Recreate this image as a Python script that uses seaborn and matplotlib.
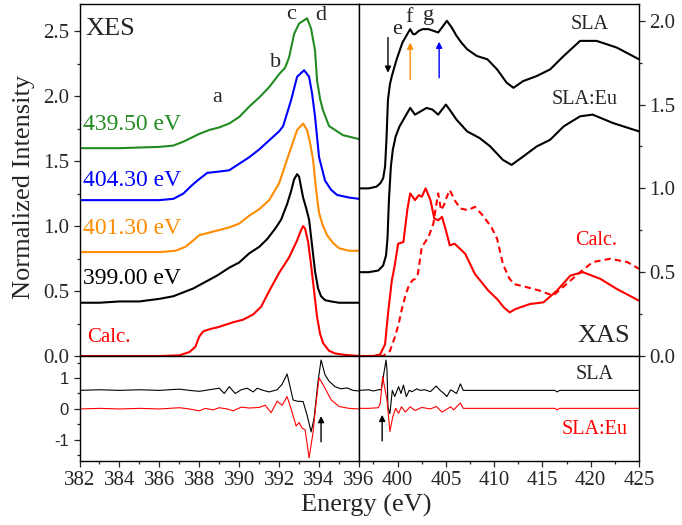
import matplotlib
matplotlib.use("Agg")
import matplotlib.pyplot as plt
import seaborn as sns
from matplotlib.ticker import MultipleLocator, FormatStrFormatter

sns.set_style("ticks")
plt.rcParams["font.family"] = ["Liberation Serif", "DejaVu Serif"]
plt.rcParams["axes.unicode_minus"] = False

# ---------------- XES (emission) spectra, offset for clarity ----------------
xes_e_399 = [382, 383, 384, 385, 385.5, 386, 386.7, 387.2, 387.7, 388.3, 388.9, 389.5,
             390.0, 390.5, 391.0, 391.4, 391.8, 392.1, 392.4, 392.6, 392.75, 392.9,
             393.0, 393.1, 393.2, 393.35, 393.5, 393.65, 393.8, 393.95, 394.1, 394.3,
             394.6, 395.0, 395.5, 396]
xes_i_399 = [0.41, 0.41, 0.42, 0.42, 0.43, 0.44, 0.46, 0.49, 0.52, 0.57, 0.62, 0.68,
             0.72, 0.79, 0.84, 0.90, 0.98, 1.05, 1.17, 1.27, 1.36, 1.40,
             1.38, 1.30, 1.22, 1.14, 1.05, 0.85, 0.65, 0.52, 0.46, 0.43,
             0.42, 0.41, 0.41, 0.41]

xes_e_401 = [382, 384, 386, 386.8, 387.3, 387.7, 388.0, 388.5, 389.0, 389.5, 390.0,
             390.5, 391.0, 391.5, 392.0, 392.5, 392.9, 393.2, 393.4, 393.55, 393.7,
             393.85, 394.0, 394.2, 394.4, 394.7, 395.0, 395.5, 396]
xes_i_401 = [0.80, 0.80, 0.80, 0.81, 0.84, 0.89, 0.93, 0.95, 0.97, 0.99, 1.02,
             1.08, 1.13, 1.20, 1.33, 1.56, 1.74, 1.79, 1.74, 1.64, 1.51,
             1.28, 1.10, 1.00, 0.93, 0.87, 0.83, 0.81, 0.81]

xes_e_404 = [382, 384, 386, 386.7, 387.2, 387.6, 387.9, 388.4, 389.0, 389.5, 390.5,
             391.0, 391.5, 392.0, 392.2, 392.4, 392.6, 392.9, 393.25, 393.5, 393.65,
             393.8, 394.0, 394.3, 394.6, 394.9, 395.5, 396]
xes_i_404 = [1.20, 1.20, 1.20, 1.21, 1.25, 1.31, 1.35, 1.41, 1.42, 1.43, 1.53,
             1.59, 1.66, 1.73, 1.77, 1.87, 1.97, 2.15, 2.20, 2.15, 2.02,
             1.84, 1.53, 1.35, 1.28, 1.24, 1.22, 1.21]

xes_e_439 = [382, 384, 386, 386.7, 387.2, 387.6, 388.0, 388.5, 389.0, 389.5, 390.0,
             390.5, 391.0, 391.5, 392.0, 392.3, 392.5, 392.75, 393.0, 393.4, 393.6,
             393.8, 393.9, 394.05, 394.2, 394.5, 395.2, 396]
xes_i_439 = [1.60, 1.60, 1.61, 1.62, 1.65, 1.68, 1.71, 1.74, 1.76, 1.79, 1.84,
             1.92, 1.99, 2.07, 2.17, 2.22, 2.30, 2.48, 2.56, 2.60, 2.52,
             2.35, 2.12, 1.98, 1.89, 1.77, 1.70, 1.67]

xes_e_calc = [382, 386, 387.0, 387.5, 387.8, 388.0, 388.2, 388.4, 388.6, 388.9, 389.3,
              389.7, 390.2, 390.7, 391.1, 391.5, 392.0, 392.5, 392.9, 393.1, 393.2,
              393.3, 393.45, 393.6, 393.75, 393.9, 394.05, 394.2, 394.5, 394.8, 395.2, 396]
xes_i_calc = [0.0, 0.0, 0.005, 0.03, 0.07, 0.15, 0.19, 0.20, 0.21, 0.22, 0.24,
              0.26, 0.28, 0.32, 0.38, 0.50, 0.64, 0.76, 0.89, 0.97, 1.00,
              0.98, 0.88, 0.70, 0.50, 0.30, 0.17, 0.10, 0.04, 0.02, 0.01, 0.0]

# ---------------- XAS (absorption) spectra ----------------
xas_e_sla = [396, 397, 397.8, 398.2, 398.5, 398.7, 398.85, 399.0, 399.2, 399.4, 399.9,
             400.5, 401.0, 401.3, 401.6, 401.8, 402.2, 402.6, 403.2, 403.7, 404.2,
             404.6, 405.1, 405.6, 406.1, 406.6, 407.2, 408.2, 409.3, 410.3, 411.3,
             412.0, 413.0, 414.4, 415.8, 417.2, 418.9, 420.6, 422.7, 425]
xas_i_sla = [1.00, 1.00, 1.01, 1.03, 1.06, 1.13, 1.30, 1.53, 1.62, 1.67, 1.77,
             1.87, 1.92, 1.95, 1.92, 1.92, 1.94, 1.95, 1.95, 1.94, 1.93,
             1.96, 2.00, 1.96, 1.91, 1.87, 1.83, 1.79, 1.77, 1.71, 1.63,
             1.60, 1.64, 1.67, 1.71, 1.79, 1.88, 1.88, 1.84, 1.77]

xas_e_eu = [396, 397, 398.0, 398.5, 398.8, 398.95, 399.1, 399.3, 399.5, 399.8, 400.2,
            400.8, 401.3, 401.8, 402.4, 403.0, 403.6, 404.2, 404.6, 405.0, 405.5,
            406.1, 407.2, 408.5, 409.6, 410.9, 411.8, 413.0, 414.4, 415.8, 417.2,
            418.9, 420.2, 422.3, 425]
xas_i_eu = [0.50, 0.50, 0.51, 0.54, 0.60, 0.70, 0.93, 1.13, 1.23, 1.31, 1.37,
            1.43, 1.48, 1.44, 1.46, 1.48, 1.47, 1.44, 1.47, 1.50, 1.46,
            1.41, 1.34, 1.30, 1.25, 1.17, 1.14, 1.19, 1.25, 1.29, 1.37,
            1.43, 1.44, 1.39, 1.34]

xas_e_calc = [396, 397.5, 398.2, 398.7, 399.0, 399.4, 399.7, 400.05, 400.6, 401.0, 401.3,
              401.8, 402.2, 402.5, 402.9, 403.4, 403.8, 404.2, 404.6, 405.0, 405.4,
              405.9, 407.0, 408.0, 409.4, 410.3, 411.0, 411.6, 412.2, 412.7, 413.7,
              415.1, 416.5, 417.9, 419.2, 421.0, 422.7, 425]
xas_i_calc = [0.0, 0.0, 0.01, 0.07, 0.25, 0.45, 0.54, 0.67, 0.68, 0.87, 0.97,
              0.93, 0.96, 0.95, 1.00, 0.93, 0.82, 0.81, 0.83, 0.75, 0.66,
              0.67, 0.61, 0.49, 0.39, 0.34, 0.29, 0.26, 0.28, 0.29, 0.31,
              0.32, 0.39, 0.48, 0.50, 0.46, 0.40, 0.33]

xas_e_calc2 = [396, 398.5, 399.2, 399.7, 400.1, 400.4, 400.8, 401.1, 401.5, 401.8, 402.1,
               402.5, 403.2, 403.7, 404.0, 404.2, 404.5, 404.8, 405.1, 405.4, 405.9,
               406.5, 407.3, 408.0, 408.8, 409.7, 410.3, 410.9, 411.5, 412.0, 413.4,
               414.7, 416.1, 417.5, 418.9, 420.2, 422.0, 423.8, 425]
xas_i_calc2 = [0.0, 0.0, 0.03, 0.11, 0.19, 0.27, 0.36, 0.41, 0.45, 0.46, 0.49,
               0.65, 0.71, 0.79, 0.90, 0.97, 0.87, 0.90, 0.95, 0.99, 0.93,
               0.88, 0.87, 0.89, 0.84, 0.77, 0.70, 0.55, 0.47, 0.43, 0.41,
               0.39, 0.36, 0.43, 0.50, 0.56, 0.58, 0.56, 0.52]

# ---------------- difference spectra ----------------
dl_e_sla = [382, 383, 384, 385, 386, 387, 387.5, 388, 388.5, 389.0, 389.25, 389.5,
            389.8, 390.1, 390.4, 390.7, 390.9, 391.2, 391.5, 391.9, 392.15, 392.4,
            392.7, 392.9, 393.2, 393.4, 393.6, 393.75, 393.95, 394.1, 394.3, 394.5,
            394.8, 395.1, 395.4, 395.7, 396]
dl_d_sla = [0.60, 0.62, 0.60, 0.62, 0.60, 0.64, 0.60, 0.57, 0.62, 0.67, 0.50, 0.72,
            0.50, 0.62, 0.67, 0.55, 0.67, 0.60, 0.55, 0.62, 0.80, 1.13,
            0.29, 0.25, 0.24, -0.20, -0.74, -0.30, 0.90, 1.58, 1.10, 0.90,
            0.72, 0.65, 0.68, 0.60, 0.58]

dl_e_eu = [382, 383, 384, 385, 386, 387, 387.5, 388, 388.3, 388.7, 389.0, 389.4,
           389.7, 390.1, 390.5, 391.0, 391.3, 391.6, 391.9, 392.15, 392.4, 392.6,
           392.85, 393.0, 393.15, 393.3, 393.5, 393.7, 393.85, 394.0, 394.25, 394.6,
           395.0, 395.5, 396]
dl_d_eu = [0.0, 0.02, 0.0, 0.02, 0.0, 0.04, 0.0, -0.06, 0.02, -0.03, 0.04, 0.0,
           -0.06, 0.06, 0.03, 0.05, 0.12, -0.12, 0.25, 0.12, 0.40, 0.0,
           -0.55, -0.44, -0.62, -0.67, -1.58, -0.75, 0.20, 1.00, 0.73, 0.30,
           0.08, 0.02, 0.0]

dr_e_sla = [396, 397, 397.5, 398.0, 398.3, 398.6, 398.8, 398.9, 399.0, 399.2, 399.45,
            399.7, 400.1, 400.35, 400.6, 400.9, 401.2, 401.5, 402.0, 402.3, 402.8,
            403.4, 404.0, 404.4, 404.8, 405.1, 405.5, 405.8, 406.1, 406.3, 406.5,
            406.8, 408, 410, 412, 414, 416.3, 416.5, 416.8, 420, 425]
dr_d_sla = [0.60, 0.62, 0.58, 0.62, 0.62, 1.20, 1.58, 1.26, 0.06, -0.15, 0.60,
            0.40, 0.72, 0.50, 0.77, 0.40, 0.60, 0.56, 0.65, 0.60, 0.62,
            0.56, 0.74, 0.60, 0.50, 0.40, 0.62, 0.56, 0.50, 0.65, 0.81,
            0.60, 0.60, 0.60, 0.60, 0.60, 0.60, 0.55, 0.60, 0.60, 0.60]

dr_e_eu = [396, 397, 398.0, 398.2, 398.45, 398.9, 399.2, 399.5, 399.8, 400.1, 400.4,
           400.8, 401.3, 401.8, 402.5, 403.4, 404.0, 404.6, 405.5, 405.8, 406.2,
           406.5, 406.8, 408, 416.3, 416.5, 416.8, 425]
dr_d_eu = [0.02, 0.02, 0.04, 0.18, 1.04, 0.29, -0.73, -0.25, 0.02, -0.14, 0.07,
           -0.10, 0.07, -0.05, 0.05, 0.0, 0.08, -0.10, 0.07, -0.03, 0.10,
           0.19, 0.02, 0.02, 0.02, -0.03, 0.02, 0.02]

GREEN = "#228b22"
BLUE = "#0000ff"
ORANGE = "#ff8c00"
RED = "#ff0000"

W, H = 682, 525
fig = plt.figure(figsize=(W / 100, H / 100), dpi=100)


def px_axes(left, top, right, bottom):
    return fig.add_axes([left / W, 1 - bottom / H, (right - left) / W, (bottom - top) / H])


ax_xes = px_axes(79.5, 4, 359, 356)
ax_xas = px_axes(359, 4, 639, 356)
ax_dl = px_axes(79.5, 356, 359, 461)
ax_dr = px_axes(359, 356, 639, 461)


def trace(ax, e, y, color, lw=1.5, dashed=False):
    sns.lineplot(x=e, y=y, ax=ax, color=color, lw=lw, estimator=None,
                 sort=False, legend=False)
    if dashed:
        ax.lines[-1].set_linestyle((0, (3, 2)))


# emission
trace(ax_xes, xes_e_439, xes_i_439, GREEN)
trace(ax_xes, xes_e_404, xes_i_404, BLUE)
trace(ax_xes, xes_e_401, xes_i_401, ORANGE)
trace(ax_xes, xes_e_399, xes_i_399, "black")
trace(ax_xes, xes_e_calc, xes_i_calc, RED)

# absorption
trace(ax_xas, xas_e_sla, xas_i_sla, "black")
trace(ax_xas, xas_e_eu, xas_i_eu, "black")
trace(ax_xas, xas_e_calc, xas_i_calc, RED)
trace(ax_xas, xas_e_calc2, xas_i_calc2, RED, dashed=True)

# differences
trace(ax_dl, dl_e_sla, dl_d_sla, "black", lw=0.8)
trace(ax_dl, dl_e_eu, dl_d_eu, RED, lw=0.8)
trace(ax_dr, dr_e_sla, dr_d_sla, "black", lw=0.8)
trace(ax_dr, dr_e_eu, dr_d_eu, RED, lw=0.8)

for ax in (ax_xes, ax_xas, ax_dl, ax_dr):
    for s in ax.spines.values():
        s.set_visible(True)
        s.set_color("black")
        s.set_linewidth(1.0)
    ax.set_xlabel("")
    ax.set_ylabel("")
    ax.tick_params(which="major", length=4.5, width=0.9, direction="out",
                   labelsize=15, pad=3)
    ax.tick_params(which="minor", length=2.5, width=0.9, direction="out")

ax_xes.set_xlim(382, 396)
ax_xes.set_ylim(0, 2.71)
ax_xas.set_xlim(396, 425)
ax_xas.set_ylim(0, 2.10)
ax_dl.set_xlim(382, 396)
ax_dr.set_xlim(396, 425)
ax_dl.set_ylim(-1.68, 1.71)
ax_dr.set_ylim(-1.68, 1.71)

for ax in (ax_xes, ax_xas):
    ax.tick_params(axis="x", which="both", bottom=False, top=False,
                   labelbottom=False)
    ax.yaxis.set_major_locator(MultipleLocator(0.5))
    ax.yaxis.set_minor_locator(MultipleLocator(0.25))
    ax.yaxis.set_major_formatter(FormatStrFormatter("%.1f"))

ax_xas.yaxis.tick_right()
ax_xas.tick_params(axis="y", which="both", left=False, right=True,
                   labelleft=False, labelright=True)

ax_dl.xaxis.set_major_locator(MultipleLocator(2))
ax_dl.xaxis.set_minor_locator(MultipleLocator(1))
ax_dl.yaxis.set_major_locator(MultipleLocator(1))
ax_dl.yaxis.set_minor_locator(MultipleLocator(0.5))
ax_dl.yaxis.set_major_formatter(FormatStrFormatter("%d"))
for lab in ax_dl.get_yticklabels():
    lab.set_fontfamily("Liberation Sans")
    lab.set_fontsize(12)

ax_dr.set_xticks([400, 405, 410, 415, 420, 425])
ax_dr.xaxis.set_minor_locator(MultipleLocator(2.5))
ax_dr.tick_params(axis="y", which="both", left=False, right=False,
                  labelleft=False)

# labels in the emission panel
ax_xes.text(382.3, 2.52, "XES", fontsize=19, va="center", ha="left")
ax_xes.text(382.2, 1.78, "439.50 eV", color=GREEN, fontsize=17, va="center")
ax_xes.text(382.2, 1.35, "404.30 eV", color=BLUE, fontsize=17, va="center")
ax_xes.text(382.2, 0.98, "401.30 eV", color=ORANGE, fontsize=17, va="center")
ax_xes.text(382.2, 0.60, "399.00 eV", color="black", fontsize=17, va="center")
ax_xes.text(382.4, 0.14, "Calc.", color=RED, fontsize=15, va="center")
for letter, ex, iy in [("a", 388.9, 1.99), ("b", 391.8, 2.26),
                       ("c", 392.6, 2.63), ("d", 394.1, 2.62)]:
    ax_xes.text(ex, iy, letter, fontsize=16, ha="center", va="center")

# labels in the absorption panel
ax_xas.text(419.9, 1.98, "SLA", fontsize=14.5, ha="center", va="center")
ax_xas.text(419.4, 1.53, "SLA:Eu", fontsize=14.5, ha="center", va="center")
ax_xas.text(420.6, 0.69, "Calc.", color=RED, fontsize=14.5, ha="center", va="center")
ax_xas.text(421.3, 0.12, "XAS", fontsize=19, ha="center", va="center")
for letter, ex, iy in [("e", 399.9, 1.95), ("f", 401.2, 2.02), ("g", 403.2, 2.03)]:
    ax_xas.text(ex, iy, letter, fontsize=16, ha="center", va="center")

arrow = dict(arrowstyle="-|>", lw=1.0, mutation_scale=9, shrinkA=0, shrinkB=0)
ax_xas.annotate("", xy=(399.0, 1.69), xytext=(399.0, 1.90),
                arrowprops=dict(arrow, color="black"))
ax_xas.annotate("", xy=(401.3, 1.87), xytext=(401.3, 1.65),
                arrowprops=dict(arrow, color=ORANGE))
ax_xas.annotate("", xy=(404.3, 1.875), xytext=(404.3, 1.66),
                arrowprops=dict(arrow, color=BLUE))

ax_dl.annotate("", xy=(394.1, -0.23), xytext=(394.1, -1.06),
               arrowprops=dict(arrow, color="black"))
ax_dr.annotate("", xy=(398.4, -0.19), xytext=(398.4, -1.03),
               arrowprops=dict(arrow, color="black"))
ax_dr.text(420.4, 1.10, "SLA", fontsize=14.5, ha="center", va="center")
ax_dr.text(420.4, -0.65, "SLA:Eu", color=RED, fontsize=14.5, ha="center", va="center")

fig.text(366 / W, 1 - 505 / H, "Energy (eV)", fontsize=19, ha="center", va="center")
fig.text(24 / W, 1 - 187 / H, "Normalized Intensity", fontsize=19, rotation=90,
         ha="center", va="center")

fig.savefig("out.png", dpi=100)
